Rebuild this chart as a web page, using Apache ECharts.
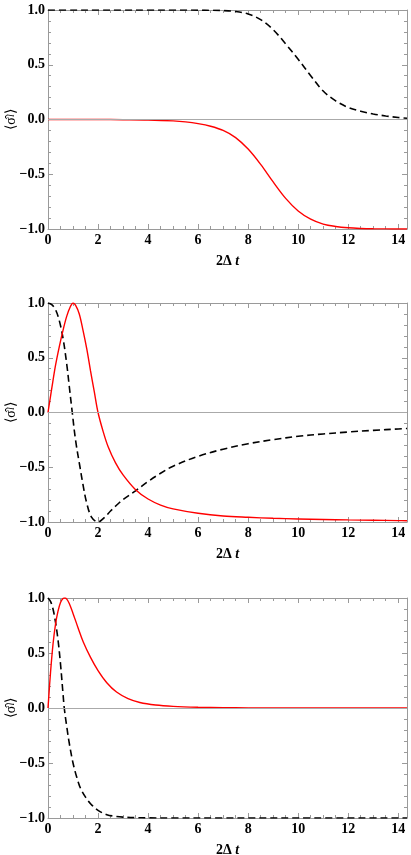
<!DOCTYPE html>
<html>
<head>
<meta charset="utf-8">
<script src="https://cdn.jsdelivr.net/npm/echarts@6/dist/echarts.min.js"></script>
<style>
html,body{margin:0;padding:0;background:#fff;}
#c{width:411px;height:855px;}
</style>
</head>
<body>
<div id="c"></div>
<script>
// ---------- data ----------
const X_MAX = 14.35;
const xTicks = [0, 2, 4, 6, 8, 10, 12, 14];
const yTicks = [-1.0, -0.5, 0.0, 0.5, 1.0];

// Panel 1
const p1X     = [0, 1, 2, 3, 4, 5, 5.5, 6, 6.5, 7, 7.5, 8, 8.5, 9, 9.5, 10, 10.5, 11, 11.5, 12, 12.5, 13, 13.5, 14, 14.35];
const p1Red   = [0, 0, 0, -0.002, -0.005, -0.013, -0.022, -0.038, -0.062, -0.10, -0.165, -0.27, -0.41, -0.57, -0.72, -0.835, -0.91, -0.955, -0.977, -0.989, -0.995, -0.998, -0.999, -1.0, -1.0];
const p1Black = [1, 1, 1, 1, 1, 1, 1, 0.999, 0.998, 0.995, 0.986, 0.963, 0.912, 0.82, 0.69, 0.55, 0.40, 0.26, 0.17, 0.11, 0.075, 0.05, 0.032, 0.018, 0.012];

// Panel 2
const p2RedX  = [0, 0.15, 0.3, 0.45, 0.6, 0.75, 0.9, 1.0, 1.1, 1.25, 1.4, 1.55, 1.7, 1.85, 2.0, 2.2, 2.4, 2.7, 3.0, 3.5, 4.0, 4.5, 5, 6, 7, 8, 9, 10, 11, 12, 13, 14, 14.35];
const p2Red   = [0, 0.22, 0.43, 0.60, 0.75, 0.88, 0.97, 1.0, 0.98, 0.90, 0.75, 0.58, 0.38, 0.19, 0.0, -0.17, -0.31, -0.46, -0.57, -0.705, -0.79, -0.845, -0.88, -0.92, -0.945, -0.957, -0.966, -0.972, -0.977, -0.981, -0.984, -0.987, -0.988];
const p2BlkX  = [0, 0.15, 0.3, 0.45, 0.6, 0.75, 0.85, 0.97, 1.1, 1.28, 1.4, 1.54, 1.74, 2.0, 2.25, 2.5, 2.75, 3.0, 3.5, 4.0, 4.5, 5, 6, 7, 8, 9, 10, 11, 12, 13, 14, 14.35];
const p2Black = [1, 0.985, 0.94, 0.84, 0.68, 0.44, 0.24, 0.0, -0.25, -0.50, -0.66, -0.82, -0.955, -1.0, -0.96, -0.90, -0.845, -0.795, -0.715, -0.63, -0.555, -0.49, -0.40, -0.335, -0.285, -0.248, -0.217, -0.196, -0.178, -0.163, -0.15, -0.146];

// Panel 3
const p3RedX  = [0, 0.1, 0.2, 0.3, 0.4, 0.5, 0.6, 0.67, 0.75, 0.85, 1.0, 1.2, 1.41, 1.7, 2.0, 2.35, 2.74, 3.2, 3.67, 4.3, 5, 6, 7, 8, 10, 12, 14.35];
const p3Red   = [0, 0.32, 0.58, 0.76, 0.88, 0.96, 0.995, 1.0, 0.99, 0.95, 0.86, 0.73, 0.60, 0.46, 0.34, 0.23, 0.145, 0.085, 0.05, 0.027, 0.015, 0.007, 0.003, 0.001, 0, 0, 0];
const p3BlkX  = [0, 0.1, 0.2, 0.3, 0.4, 0.5, 0.6, 0.65, 0.75, 0.85, 1.0, 1.15, 1.3, 1.5, 1.7, 2.0, 2.35, 2.7, 3.0, 3.5, 4, 5, 7, 10, 14.35];
const p3Black = [1, 0.97, 0.9, 0.78, 0.62, 0.40, 0.13, 0.0, -0.17, -0.32, -0.50, -0.63, -0.73, -0.81, -0.87, -0.93, -0.97, -0.985, -0.992, -0.997, -0.999, -1.0, -1.0, -1.0, -1.0];

// ---------- chart ----------
const zip = (xs, ys) => xs.map((x, i) => [x, ys[i]]);
const AX = '#9a9a9a';
const FONT = 'Liberation Serif';
const gBase = {left: 48, right: 4, containLabel: false, outerBoundsMode: 'none'};
const grids = [
  Object.assign({top: 10, height: 219}, gBase),
  Object.assign({top: 303, height: 219}, gBase),
  Object.assign({top: 598, height: 220}, gBase)
];

function xAx(gi, pos, labels) {
  return {
    type: 'value', gridIndex: gi, position: pos, min: 0, max: X_MAX, interval: 2,
    axisLine: {show: true, onZero: false, lineStyle: {color: AX, width: 1}},
    axisTick: {show: true, inside: true, length: 5, lineStyle: {color: AX}},
    minorTick: {show: true, splitNumber: 4, length: 3, lineStyle: {color: AX}},
    splitLine: {show: false}, minorSplitLine: {show: false},
    axisLabel: {show: labels, showMaxLabel: false, color: '#000', fontFamily: FONT, fontWeight: 'bold', fontSize: 14, margin: 4,
      formatter: v => xTicks.includes(v) ? String(v) : ''},
    name: labels ? '2Δ {i|t}' : '',
    nameLocation: 'middle', nameGap: 25,
    nameTextStyle: {color: '#000', fontFamily: FONT, fontWeight: 'bold', fontSize: 14,
      rich: {i: {fontFamily: FONT, fontWeight: 'bold', fontStyle: 'italic', fontSize: 14, color: '#000'}}}
  };
}
function yAx(gi, pos, labels) {
  return {
    type: 'value', gridIndex: gi, position: pos, min: -1, max: 1, interval: 0.5,
    axisLine: {show: true, onZero: false, lineStyle: {color: AX, width: 1}},
    axisTick: {show: true, inside: true, length: 5, lineStyle: {color: AX}},
    minorTick: {show: true, splitNumber: 5, length: 3, lineStyle: {color: AX}},
    splitLine: {show: false}, minorSplitLine: {show: false},
    axisLabel: {show: labels, color: '#000', fontFamily: FONT, fontWeight: 'bold', fontSize: 14, margin: 3,
      formatter: v => {
        const t = yTicks.find(k => Math.abs(k - v) < 1e-9);
        if (t === undefined) return '';
        return t < 0 ? '\u2212' + Math.abs(t).toFixed(1) : t.toFixed(1);
      }},
    name: labels ? '⟨σ\u0302{s|l}⟩' : '',
    nameLocation: 'middle', nameGap: 30, nameRotate: 90, nameMoveOverlap: false,
    nameTextStyle: {color: '#000', fontFamily: FONT, fontSize: 14,
      rich: {s: {fontFamily: FONT, fontStyle: 'italic', fontSize: 10, color: '#000'}}}
  };
}

const xAxes = [], yAxes = [], series = [];
const panels = [
  {red: zip(p1X, p1Red), black: zip(p1X, p1Black)},
  {red: zip(p2RedX, p2Red), black: zip(p2BlkX, p2Black)},
  {red: zip(p3RedX, p3Red), black: zip(p3BlkX, p3Black)}
];
panels.forEach((p, gi) => {
  xAxes.push(xAx(gi, 'bottom', true));
  xAxes.push(xAx(gi, 'top', false));
  yAxes.push(yAx(gi, 'left', true));
  yAxes.push(yAx(gi, 'right', false));
  const xi = gi * 2, yi = gi * 2;
  series.push({
    type: 'line', xAxisIndex: xi, yAxisIndex: yi, data: [], silent: true,
    markLine: {silent: true, symbol: ['none', 'none'], label: {show: false},
      lineStyle: {color: '#aaaaaa', type: 'solid', width: 1}, data: [{yAxis: 0}]}
  });
  series.push({
    type: 'line', xAxisIndex: xi, yAxisIndex: yi, data: p.black, showSymbol: false, smooth: 0.35,
    lineStyle: {color: '#000', width: 1.6, type: [7, 4]}, silent: true
  });
  series.push({
    type: 'line', xAxisIndex: xi, yAxisIndex: yi, data: p.red, showSymbol: false, smooth: 0.35,
    lineStyle: {color: '#ff0000', width: 1.4}, silent: true
  });
});

const chart = echarts.init(document.getElementById('c'), null, {renderer: 'canvas'});
chart.setOption({
  animation: false,
  backgroundColor: '#fff',
  grid: grids,
  xAxis: xAxes,
  yAxis: yAxes,
  series: series
});
</script>
</body>
</html>
